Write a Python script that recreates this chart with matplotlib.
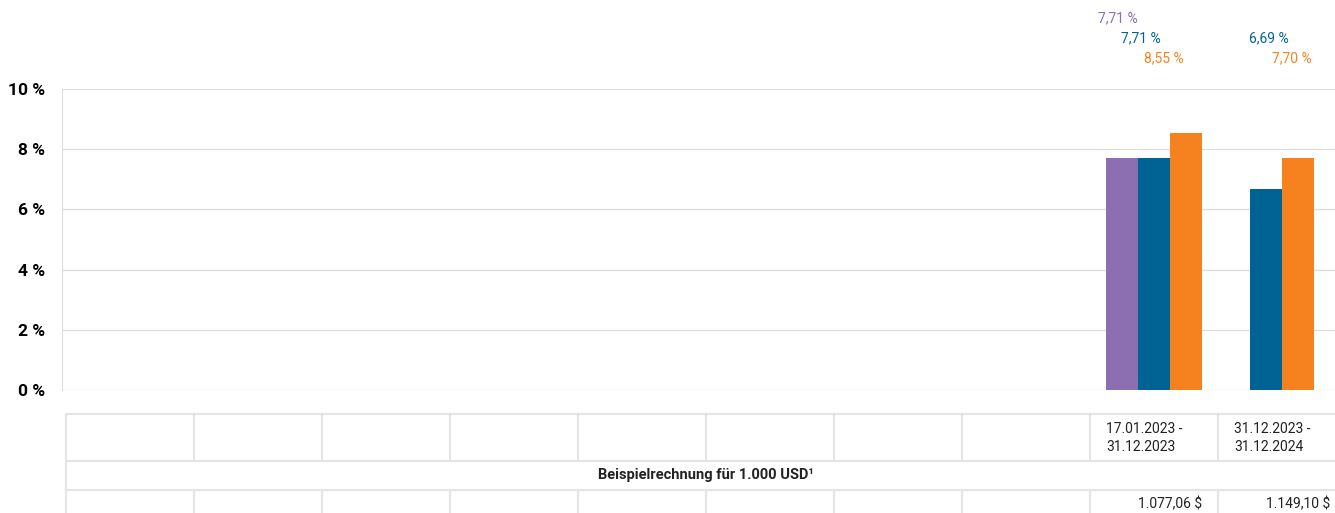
import matplotlib
matplotlib.use("Agg")
import matplotlib.pyplot as plt
from matplotlib.transforms import blended_transform_factory as btf

plt.rcParams['font.family'] = ['Roboto', 'DejaVu Sans']

# ---- data ----
n_cat = 10
periods = [''] * 8 + ['17.01.2023 -\n31.12.2023', '31.12.2023 -\n31.12.2024']
amounts = [''] * 8 + ['1.077,06 $', '1.149,10 $']
series_names = ['purple', 'blue', 'orange']
purple = [None] * 8 + [7.71, None]
blue = [None] * 8 + [7.71, 6.69]
orange = [None] * 8 + [8.55, 7.70]
yticks = [0, 2, 4, 6, 8, 10]
table_title = 'Beispielrechnung für 1.000 USD¹'

colors = ['#8b6fb0', '#006393', '#f5821f']
series = [purple, blue, orange]
label_dx = [-0.28, -0.10, 0.08]
label_y = [18, 38, 58]

W, H = 1335, 513
fig = plt.figure(figsize=(W / 100, H / 100), dpi=100)
ax = fig.add_axes([62 / W, (H - 390) / H, 1 - 62 / W, (390 - 89) / H])
ov = fig.add_axes([0, 0, 1, 1], zorder=-1)
ov.set_xlim(0, W)
ov.set_ylim(H, 0)
ov.axis('off')

ax.set_xlim(-0.531, 9.414)
ax.set_ylim(0, 10)
ax.set_yticks(yticks)
ax.set_yticklabels([f'{t} %' for t in yticks], fontsize=12.5, fontweight='bold')
ax.tick_params(axis='y', length=0, pad=12)
ax.set_xticks([])
grid_c = '#dedede'
for t in yticks:
    ax.axhline(t, color=grid_c, lw=1, zorder=0)
for s in ['top', 'right', 'bottom']:
    ax.spines[s].set_visible(False)
ax.spines['left'].set_color(grid_c)

bw = 0.25
for i in range(n_cat):
    present = [k for k in range(3) if series[k][i] is not None]
    n = len(present)
    for j, k in enumerate(present):
        off = (j - (n - 1) / 2) * bw
        ax.bar(i + off, series[k][i], width=bw, color=colors[k], zorder=2)

tr = btf(ax.transData, ov.transData)
for i in range(n_cat):
    for k in range(3):
        v = series[k][i]
        if v is not None:
            ov.text(i + label_dx[k], label_y[k], f'{v:.2f} %'.replace('.', ','),
                    transform=tr, ha='center', va='center', fontsize=10,
                    color=colors[k])

# ---- table ----
line_c = '#e4e4e4'
rows = [414, 461, 490, 520]
x0, x1 = -0.5, n_cat - 0.5
for y in rows[:3]:
    ov.plot([x0, x1], [y, y], transform=tr, color=line_c, lw=1.5, clip_on=False)
for i in range(n_cat + 1):
    xb = i - 0.5
    ov.plot([xb, xb], [rows[0], rows[1]], transform=tr, color=line_c, lw=1.5, clip_on=False)
    ov.plot([xb, xb], [rows[2], rows[3]], transform=tr, color=line_c, lw=1.5, clip_on=False)
ov.plot([x0, x0], [rows[1], rows[2]], transform=tr, color=line_c, lw=1.5, clip_on=False)
ov.plot([x1, x1], [rows[1], rows[2]], transform=tr, color=line_c, lw=1.5, clip_on=False)

for i in range(n_cat):
    if periods[i]:
        ov.text(i - 0.5 + 16 / 128, 438, periods[i], transform=tr, ha='left',
                va='center', fontsize=10, color='#222222', linespacing=1.35)
    if amounts[i]:
        ov.text(i + 0.5 - 16 / 128, 504, amounts[i], transform=tr, ha='right',
                va='center', fontsize=10, color='#222222')
ov.text((x0 + x1) / 2, 475, table_title, transform=tr, ha='center', va='center',
        fontsize=10.5, fontweight='bold', color='#222222')

fig.savefig('out.png', dpi=100)
